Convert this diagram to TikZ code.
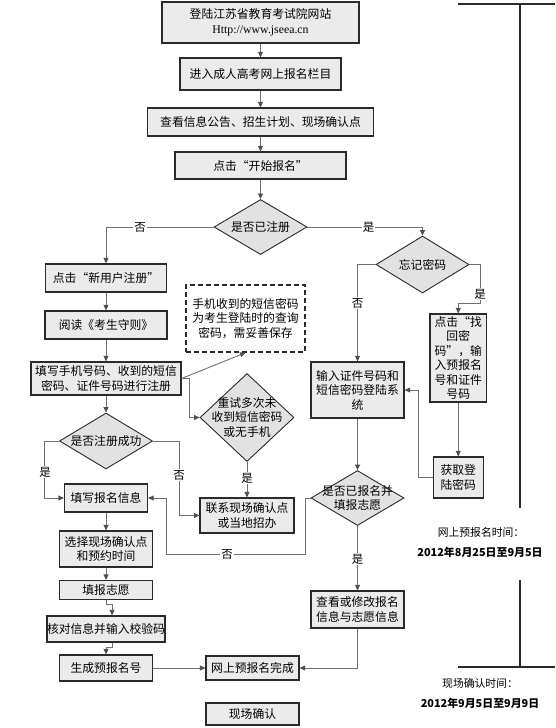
\documentclass[tikz,border=0pt]{standalone}
\usepackage{fontspec}
\setmainfont{Noto Sans CJK SC}
\newfontfamily\latinserif{Liberation Serif}
\usetikzlibrary{shapes.geometric,arrows.meta}
\definecolor{boxgray}{HTML}{EBEBEB}
\definecolor{diagray}{HTML}{E2E2E2}
\definecolor{linegray}{HTML}{707070}
\definecolor{tipgray}{HTML}{505050}
\definecolor{edgegray}{HTML}{2A2A2A}
\begin{document}
\begin{tikzpicture}[x=1pt,y=-1pt,
  txt/.style={font=\fontsize{11.8}{14.5}\selectfont},
  box/.style={rectangle,draw=edgegray,line width=1.2pt,fill=boxgray,inner sep=0pt,align=center,txt},
  dia/.style={diamond,draw=edgegray,line width=0.9pt,fill=diagray,inner sep=0pt},
  dlabel/.style={align=center,txt,inner sep=0pt},
  note/.style={rectangle,draw=edgegray,line width=1.4pt,dash pattern=on 5pt off 3pt,fill=white,inner sep=0pt,align=center,txt},
  con/.style={draw=linegray,line width=0.9pt,-{Triangle[length=5.5pt,width=5pt,color=tipgray]}},
  lbl/.style={fill=white,inner sep=1pt,font=\fontsize{11.5}{13}\selectfont},
  tl/.style={draw=edgegray,line width=1.2pt},
  datefont/.style={font=\fontsize{10.9}{13}\selectfont\bfseries}
]
\fill[white] (0,0) rectangle (555,728);
\useasboundingbox (0,0) rectangle (555,728);

% main column
\node[box,minimum width=197pt,minimum height=41pt] (b1) at (260.5,22.5) {登陆江苏省教育考试院网站\\{\latinserif Http://www.jseea.cn}};
\node[box,minimum width=161pt,minimum height=32pt] (b2) at (260.5,74) {进入成人高考网上报名栏目};
\node[box,minimum width=226pt,minimum height=28pt] (b3) at (260.5,122) {查看信息公告、招生计划、现场确认点};
\node[box,minimum width=171pt,minimum height=27pt] (b4) at (260.5,165.5) {点击“开始报名”};
\node[dia,minimum width=93pt,minimum height=55pt,label={[dlabel]center:是否已注册}] (d1) at (260.5,227) {};

% left branch
\node[box,minimum width=121pt,minimum height=28pt] (b5) at (106,278) {点击“新用户注册”};
\node[box,minimum width=122pt,minimum height=28pt] (b6) at (106,325) {阅读《考生守则》};
\node[note,minimum width=119pt,minimum height=67pt] (n1) at (245.5,318.5) {手机收到的短信密码\\为考生登陆时的查询\\密码，需妥善保存};
\node[box,minimum width=150pt,minimum height=33pt] (b7) at (106,378.5) {填写手机号码、收到的短信\\密码、证件号码进行注册};
\node[dia,minimum width=93pt,minimum height=56pt,label={[dlabel]center:是否注册成功}] (d3) at (106,441) {};
\node[dia,minimum width=94pt,minimum height=88pt,label={[dlabel]center:重试多次未\\收到短信密码\\或无手机}] (d4) at (247,417.5) {};
\node[box,minimum width=94pt,minimum height=35pt] (b8) at (247,515.5) {联系现场确认点\\或当地招办};

\node[box,minimum width=83pt,minimum height=28pt] (b12) at (106,498) {填写报名信息};
\node[box,minimum width=93pt,minimum height=36pt] (b13) at (106,549) {选择现场确认点\\和预约时间};
\node[box,minimum width=93pt,minimum height=19pt] (b14) at (106,590) {填报志愿};
\node[box,minimum width=117pt,minimum height=26pt] (b15) at (106,629) {核对信息并输入校验码};
\node[box,minimum width=93pt,minimum height=26pt] (b16) at (106,668) {生成预报名号};
\node[box,minimum width=93pt,minimum height=24pt] (b17) at (252.5,668) {网上预报名完成};
\node[box,minimum width=93pt,minimum height=22pt] (b18) at (252.5,714) {现场确认};

% right branch
\node[dia,minimum width=93pt,minimum height=57pt,label={[dlabel]center:忘记密码}] (d2) at (422.5,264.5) {};
\node[box,minimum width=93pt,minimum height=56pt] (b9) at (357.5,390) {输入证件号码和\\短信密码登陆系\\统};
\node[box,minimum width=56.5pt,minimum height=88pt] (b10) at (458.25,358) {点击“找\\回密\\码”，输\\入预报名\\号和证件\\号码};
\node[box,minimum width=50pt,minimum height=41pt] (b11) at (458.25,477.5) {获取登\\陆密码};
\node[dia,minimum width=93pt,minimum height=55pt,label={[dlabel]center:是否已报名并\\填报志愿}] (d5) at (357.5,498) {};
\node[box,minimum width=93pt,minimum height=37pt] (b19) at (357.5,609.5) {查看或修改报名\\信息与志愿信息};

% connectors
\draw[con] (b1) -- (b2);
\draw[con] (b2) -- (b3);
\draw[con] (b3) -- (b4);
\draw[con] (b4) -- (d1);
\draw[con] (d1.west) -| (b5.north);
\draw[con] (d1.east) -| (d2.north);
\draw[con] (b5) -- (b6);
\draw[con] (b6) -- (b7);
\draw[con] (b7.east) -- (n1.south);
\draw[con] (b7.east) -- ++(8,0) |- (d4.west);
\draw[con] (b7) -- (d3);
\draw[con] (d3.west) -- ++(-15,0) |- (b12.west);
\draw[con] (d3.east) -- ++(26,0) |- (b8.west);
\draw[con] (d4) -- (b8);
\draw[con] (d2.west) -| (b9.north);
\draw[con] (d2.east) -- ++(11,0) -- ++(0,39) -| (b10.north);
\draw[con] (b10) -- (b11);
\draw[con] (b11.west) -- ++(-14,0) |- (b9.east);
\draw[con] (b9) -- (d5);
\draw[con] (d5) -- (b19);
\draw[con] (d5.west) -- ++(-5,0) -- ++(0,56) -- ++(-139,0) |- (b12.east);
\draw[con] (b12) -- (b13);
\draw[con] (b13) -- (b14);
\draw[con] (b14.south) -- ++(0,4) -| ([xshift=6pt]b15.north);
\draw[con] ([xshift=6pt]b15.south) -- ++(0,5) -| (b16.north);
\draw[con] (b16) -- (b17);
\draw[con] (b19.south) |- (b17.east);

% branch labels
\node[lbl] (l1) at (140,227) {否};
\node[lbl] (l2) at (368.5,227) {是};
\node[lbl] (l3) at (357.5,303) {否};
\node[lbl] (l4) at (480,294) {是};
\node[lbl] (l5) at (45,472) {是};
\node[lbl] (l6) at (179,475) {否};
\node[lbl] (l7) at (247,478) {是};
\node[lbl] (l8) at (227,554) {否};
\node[lbl] (l9) at (357.5,559) {是};

% timeline
\draw[tl] (458,4) -- (555,4);
\draw[tl] (520,4) -- (520,508);
\draw[tl] (520,580) -- (520,667);
\draw[tl] (458,667) -- (555,667);
\node[font=\fontsize{10.8}{13}\selectfont] (t1) at (481,532) {网上预报名时间：};
\node[datefont] (t2) at (480,552) {2012年8月25日至9月5日};
\node[font=\fontsize{10.8}{13}\selectfont] (t3) at (480,683) {现场确认时间：};
\node[datefont] (t4) at (480,703) {2012年9月5日至9月9日};
\end{tikzpicture}
\end{document}
